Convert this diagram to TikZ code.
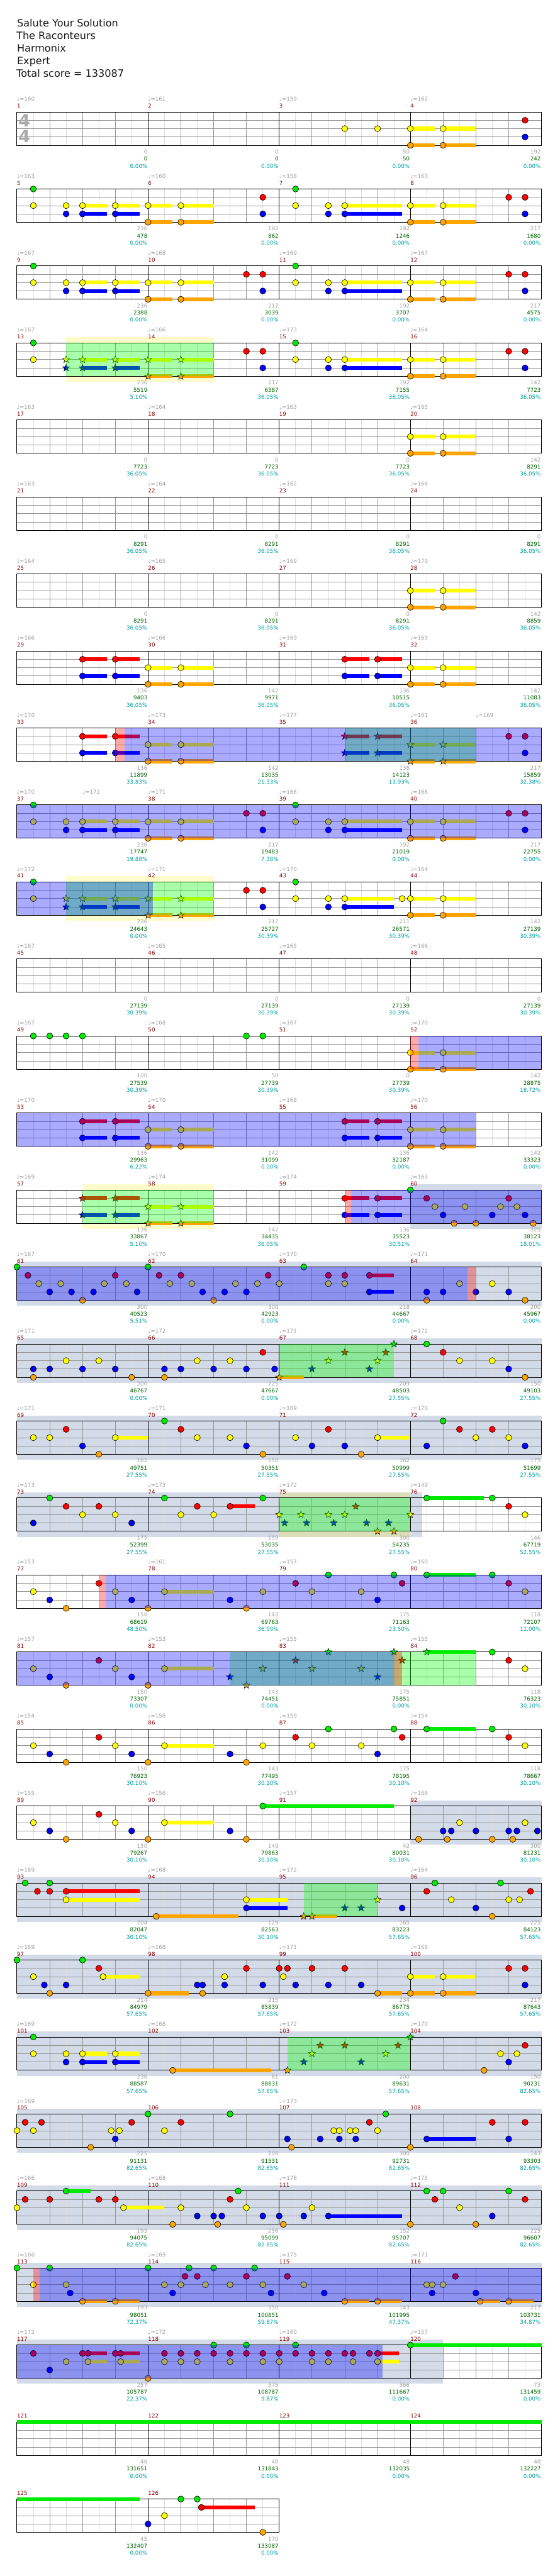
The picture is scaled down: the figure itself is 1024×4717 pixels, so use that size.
\documentclass[tikz,border=0pt]{standalone}
\usepackage{fontspec}
\setmainfont{DejaVu Sans}
\definecolor{ng}{RGB}{0,235,0}
\definecolor{nr}{RGB}{255,0,0}
\definecolor{ny}{RGB}{255,255,0}
\definecolor{nb}{RGB}{0,0,255}
\definecolor{no}{RGB}{255,165,0}
\definecolor{solo}{RGB}{211,219,232}
\definecolor{hbc}{RGB}{221,221,221}
\definecolor{btc}{RGB}{150,150,150}
\definecolor{tgray}{RGB}{160,160,160}
\definecolor{mred}{RGB}{140,0,0}
\definecolor{sgreen}{RGB}{0,100,0}
\definecolor{pteal}{RGB}{0,160,160}
\definecolor{tsg}{RGB}{170,170,170}
\newcommand\smf{\fontsize{10}{12}\selectfont}
\tikzset{
  hb/.style={draw=hbc, line width=0.8pt},
  bt/.style={draw=btc, line width=0.8pt},
  ln/.style={draw=btc, line width=0.9pt},
  ms/.style={draw=black, line width=0.9pt},
  bd/.style={draw=black, line width=1.1pt},
  lbl/.style={inner sep=0pt, font=\smf},
  tmp/.style={lbl, anchor=base west, text=tgray},
  mnum/.style={lbl, anchor=base west, text=mred},
  sgl/.style={lbl, anchor=base east, text=tgray},
  scl/.style={lbl, anchor=base east, text=sgreen},
  pcl/.style={lbl, anchor=base east, text=pteal},
  hdr/.style={inner sep=0pt, anchor=base west, text=black!90, font=\fontsize{18.5}{22}\selectfont},
  tsig/.style={inner sep=0pt, text=tsg, font=\bfseries\fontsize{31}{31}\selectfont},
  pics/sn/.style={code={\filldraw[fill=#1,draw=black,line width=0.6pt] (90:6.8) -- (126:2.9) -- (162:6.8) -- (198:2.9) -- (234:6.8) -- (270:2.9) -- (306:6.8) -- (342:2.9) -- (18:6.8) -- (54:2.9) -- cycle;}}
}
\newcommand\notesAt[3]{\foreach \kk in {#3}{\filldraw[fill=#2,draw=black,line width=0.7pt] ({31+30*\kk},{-15.25*#1}) circle (5.6);}}
\newcommand\susAt[3]{\foreach \ka/\kb in {#3}{\fill[#2] ({31+30*\ka},{-15.25*#1-3.5}) rectangle ({31+30*\kb},{-15.25*#1+3.5});}}
\newcommand\starsAt[3]{\foreach \kk in {#3}{\pic at ({31+30*\kk},{-15.25*#1}) {sn=#2};}}
\newcommand\NtG[1]{\notesAt{0}{ng}{#1}}
\newcommand\NtR[1]{\notesAt{1}{nr}{#1}}
\newcommand\NtY[1]{\notesAt{2}{ny}{#1}}
\newcommand\NtB[1]{\notesAt{3}{nb}{#1}}
\newcommand\NtO[1]{\notesAt{4}{no}{#1}}
\newcommand\SuG[1]{\susAt{0}{ng}{#1}}
\newcommand\SuR[1]{\susAt{1}{nr}{#1}}
\newcommand\SuY[1]{\susAt{2}{ny}{#1}}
\newcommand\SuB[1]{\susAt{3}{nb}{#1}}
\newcommand\SuO[1]{\susAt{4}{no}{#1}}
\newcommand\StG[1]{\starsAt{0}{ng}{#1}}
\newcommand\StR[1]{\starsAt{1}{nr}{#1}}
\newcommand\StY[1]{\starsAt{2}{ny}{#1}}
\newcommand\StB[1]{\starsAt{3}{nb}{#1}}
\newcommand\StO[1]{\starsAt{4}{no}{#1}}
\newcommand\OvS[2]{\fill[green,fill opacity=0.333] ({31+30*#1},0) rectangle ({31+30*#2},-61);}
\newcommand\OvD[2]{\fill[blue,fill opacity=0.333] ({31+30*#1},0) rectangle ({31+30*#2},-61);}
\newcommand\OvR[2]{\fill[red,fill opacity=0.333] ({31+30*#1},0) rectangle ({31+30*#2},-61);}
\newcommand\BdS[2]{\fill[solo] ({31+30*#1},10) rectangle ({31+30*#2},-71);}
\newcommand\BdY[2]{\fill[yellow,fill opacity=0.2] ({31+30*#1},0) rectangle ({31+30*#2},10.5);\fill[yellow,fill opacity=0.2] ({31+30*#1},-61) rectangle ({31+30*#2},-71.5);}
\newcommand\GridFour{%
  \foreach \kk in {1,3,...,31}{\draw[hb] ({31+30*\kk},0) -- ({31+30*\kk},-61);}
  \foreach \kk in {2,4,6,10,12,14,18,20,22,26,28,30}{\draw[bt] ({31+30*\kk},0) -- ({31+30*\kk},-61);}
  \foreach \ll in {1,2,3}{\draw[ln] (31,{-15.25*\ll}) -- (991,{-15.25*\ll});}
  \foreach \kk in {8,16,24}{\draw[ms] ({31+30*\kk},0) -- ({31+30*\kk},-61);}
  \draw[bd] (31,0) rectangle (991,-61);}
\newcommand\GridTwo{%
  \foreach \kk in {1,3,...,15}{\draw[hb] ({31+30*\kk},0) -- ({31+30*\kk},-61);}
  \foreach \kk in {2,4,6,10,12,14}{\draw[bt] ({31+30*\kk},0) -- ({31+30*\kk},-61);}
  \foreach \ll in {1,2,3}{\draw[ln] (31,{-15.25*\ll}) -- (511,{-15.25*\ll});}
  \draw[ms] (271,0) -- (271,-61);
  \draw[bd] (31,0) rectangle (511,-61);}
\newcommand\Tps[2]{\foreach \ka/\kb in {#2}{\node[tmp] (tp#1-\ka) at ({31+30*\ka},20) {♩=\kb};}}
\newcommand\Lbs[1]{\foreach \va/\vb/\vc/\vd/\ve in {#1}{%
  \node[mnum] (mn\vb) at ({31+240*\va},7.4) {\vb};
  \node[sgl] (sg\vb) at ({30+240*(\va+1)},-76.6) {\vc};
  \node[scl] (sc\vb) at ({30+240*(\va+1)},-89.6) {\vd};
  \node[pcl] (pc\vb) at ({30+240*(\va+1)},-102.6) {\ve};}}
\begin{document}
\begin{tikzpicture}[x=1pt,y=1pt]
\useasboundingbox (0,0) rectangle (1024,-4717);
\fill[white] (0,0) rectangle (1024,-4717);
\node[hdr] (h1) at (31,-49) {Salute Your Solution};
\node[hdr] (h2) at (30,-72) {The Raconteurs};
\node[hdr] (h3) at (31,-95) {Harmonix};
\node[hdr] (h4) at (31,-118) {Expert};
\node[hdr] (h5) at (30,-141) {Total score = 133087};
% row 0
\begin{scope}[yshift=-205pt]
\GridFour
\node[tsig] (ts1) at (44.5,-15.5) {4};
\node[tsig] (ts2) at (44.5,-45) {4};
\SuY{24/25.5,26/28}\SuO{24/25.5,26/28}
\NtY{20,22,24,26}\NtO{24,26}\NtR{31}\NtB{31}
\Tps{0}{0/160,8/161,16/159,24/162}
\Lbs{0/1/0/0/0.00\%,1/2/0/0/0.00\%,2/3/50/50/0.00\%,3/4/192/242/0.00\%}
\end{scope}
% row 1
\begin{scope}[yshift=-346pt]
\GridFour
\SuY{4/5.5,6/7.5,8/9.5,10/12,20/23.5,24/25.5,26/28}\SuB{4/5.5,6/7.5,20/23.5}\SuO{8/9.5,10/12,24/25.5,26/28}
\NtG{1,17}\NtY{1,3,4,6,8,10,17,19,20,24,26}\NtB{3,4,6,15,19,20,31}\NtO{8,10,24,26}\NtR{15,30,31}
\Tps{1}{0/163,8/160,16/158,24/160}
\Lbs{0/5/236/478/0.00\%,1/6/192/862/0.00\%,2/7/192/1246/0.00\%,3/8/217/1680/0.00\%}
\end{scope}
% row 2
\begin{scope}[yshift=-487pt]
\GridFour
\SuY{4/5.5,6/7.5,8/9.5,10/12,20/23.5,24/25.5,26/28}\SuB{4/5.5,6/7.5,20/23.5}\SuO{8/9.5,10/12,24/25.5,26/28}
\NtG{1,17}\NtY{1,3,4,6,8,10,17,19,20,24,26}\NtB{3,4,6,15,19,20,31}\NtO{8,10,24,26}\NtR{14,15,30,31}
\Tps{2}{0/167,8/168,16/169,24/167}
\Lbs{0/9/236/2388/0.00\%,1/10/217/3039/0.00\%,2/11/192/3707/0.00\%,3/12/217/4575/0.00\%}
\end{scope}
% row 3
\begin{scope}[yshift=-628pt]
\BdY{3}{12}
\GridFour
\SuY{4/5.5,6/7.5,8/9.5,10/12,20/23.5,24/25.5,26/28}\SuB{4/5.5,6/7.5,20/23.5}\SuO{8/9.5,10/12,24/25.5,26/28}
\NtG{1,17}\NtY{1,17,19,20,24,26}\NtB{15,19,20,31}\NtR{14,15,30,31}\NtO{24,26}
\StY{3,4,6,8,10}\StB{3,4,6}\StO{8,10}
\OvS{3}{12}
\Tps{3}{0/167,8/166,16/173,24/164}
\Lbs{0/13/236/5519/5.10\%,1/14/217/6387/36.05\%,2/15/192/7155/36.05\%,3/16/142/7723/36.05\%}
\end{scope}
% row 4
\begin{scope}[yshift=-769pt]
\GridFour
\SuY{24/25.5,26/28}\SuO{24/25.5,26/28}\NtY{24,26}\NtO{24,26}
\Tps{4}{0/163,8/164,16/163,24/165}
\Lbs{0/17/0/7723/36.05\%,1/18/0/7723/36.05\%,2/19/0/7723/36.05\%,3/20/142/8291/36.05\%}
\end{scope}
% row 5
\begin{scope}[yshift=-910pt]
\GridFour
\Tps{5}{0/163,8/164,16/162,24/166}
\Lbs{0/21/0/8291/36.05\%,1/22/0/8291/36.05\%,2/23/0/8291/36.05\%,3/24/0/8291/36.05\%}
\end{scope}
% row 6
\begin{scope}[yshift=-1051pt]
\GridFour
\SuY{24/25.5,26/28}\SuO{24/25.5,26/28}\NtY{24,26}\NtO{24,26}
\Tps{6}{0/164,8/165,16/169,24/170}
\Lbs{0/25/0/8291/36.05\%,1/26/0/8291/36.05\%,2/27/0/8291/36.05\%,3/28/142/8859/36.05\%}
\end{scope}
% row 7
\begin{scope}[yshift=-1192pt]
\GridFour
\SuR{4/5.5,6/7.5,20/21.5,22/23.5}\SuB{4/5.5,6/7.5,20/21.5,22/23.5}\SuY{8/9.5,10/12,24/25.5,26/28}\SuO{8/9.5,10/12,24/25.5,26/28}
\NtR{4,6,20,22}\NtB{4,6,20,22}\NtY{8,10,24,26}\NtO{8,10,24,26}
\Tps{7}{0/166,8/166,16/169,24/169}
\Lbs{0/29/136/9403/36.05\%,1/30/142/9971/36.05\%,2/31/136/10515/36.05\%,3/32/142/11083/36.05\%}
\end{scope}
% row 8
\begin{scope}[yshift=-1333pt]
\GridFour
\SuR{4/5.5,6/7.5,20/21.5,22/23.5}\SuB{4/5.5,6/7.5,20/21.5,22/23.5}\SuY{8/9.5,10/12,24/25.5,26/28}\SuO{8/9.5,10/12,24/25.5,26/28}
\NtR{4,6,30,31}\NtB{4,6,31}\NtY{8,10}\NtO{8,10}
\StR{20,22}\StB{20,22}\StY{24,26}\StO{24,26}
\OvS{20}{28}\OvD{6.55}{32}\OvR{6}{6.55}
\Tps{8}{0/170,8/173,16/177,24/161,28/169}
\Lbs{0/33/136/11899/33.83\%,1/34/142/13035/21.33\%,2/35/136/14123/13.93\%,3/36/217/15859/32.38\%}
\end{scope}
% row 9
\begin{scope}[yshift=-1474pt]
\GridFour
\SuY{4/5.5,6/7.5,8/9.5,10/12,20/23.5,24/25.5,26/28}\SuB{4/5.5,6/7.5,20/23.5}\SuO{8/9.5,10/12,24/25.5,26/28}
\NtG{1,17}\NtY{1,3,4,6,8,10,17,19,20,24,26}\NtB{3,4,6,15,19,20,31}\NtO{8,10,24,26}\NtR{14,15,30,31}
\OvD{0}{32}
\Tps{9}{0/170,4/172,8/171,16/166,24/168}
\Lbs{0/37/236/17747/19.88\%,1/38/217/19483/7.38\%,2/39/192/21019/0.00\%,3/40/217/22755/0.00\%}
\end{scope}
% row 10
\begin{scope}[yshift=-1615pt]
\BdY{3}{12}
\GridFour
\SuY{4/5.5,6/7.5,8/9.5,10/12,20/23,24/25.5,26/28}\SuB{4/5.5,6/7.5,20/23}\SuO{8/9.5,10/12,24/25.5,26/28}
\NtG{1,17}\NtY{1,17,19,20,23.5,24,26}\NtB{15,19,20}\NtR{14,15}\NtO{24,26}
\StY{3,4,6,8,10}\StB{3,4,6}\StO{8,10}
\OvS{3}{12}\OvD{0}{8.3}
\Tps{10}{0/172,8/171,16/170,24/164}
\Lbs{0/41/236/24643/0.00\%,1/42/217/25727/30.39\%,2/43/211/26571/30.39\%,3/44/142/27139/30.39\%}
\end{scope}
% row 11
\begin{scope}[yshift=-1756pt]
\GridFour
\Tps{11}{0/167,8/165,16/165,24/166}
\Lbs{0/45/0/27139/30.39\%,1/46/0/27139/30.39\%,2/47/0/27139/30.39\%,3/48/0/27139/30.39\%}
\end{scope}
% row 12
\begin{scope}[yshift=-1897pt]
\GridFour
\SuY{24/25.5,26/28}\SuO{24/25.5,26/28}
\NtG{1,2,3,4,14,15}\NtY{24,26}\NtO{24,26}
\OvD{24.5}{32}\OvR{24}{24.5}
\Tps{12}{0/167,8/168,16/167,24/170}
\Lbs{0/49/100/27539/30.39\%,1/50/50/27739/30.39\%,2/51/0/27739/30.39\%,3/52/142/28875/18.72\%}
\end{scope}
% row 13
\begin{scope}[yshift=-2038pt]
\GridFour
\SuR{4/5.5,6/7.5,20/21.5,22/23.5}\SuB{4/5.5,6/7.5,20/21.5,22/23.5}\SuY{8/9.5,10/12,24/25.5,26/28}\SuO{8/9.5,10/12,24/25.5,26/28}
\NtR{4,6,20,22}\NtB{4,6,20,22}\NtY{8,10,24,26}\NtO{8,10,24,26}
\OvD{0}{28}
\Tps{13}{0/170,8/170,16/168,24/170}
\Lbs{0/53/136/29963/6.22\%,1/54/142/31099/0.00\%,2/55/136/32187/0.00\%,3/56/142/33323/0.00\%}
\end{scope}
% row 14
\begin{scope}[yshift=-2179pt]
\BdS{24}{32}\BdY{4}{12}
\GridFour
\SuR{4/5.5,6/7.5,20/21.5,22/23.5}\SuB{4/5.5,6/7.5,20/21.5,22/23.5}\SuY{8/9.5,10/12}\SuO{8/9.5,10/12}
\StR{4,6}\StB{4,6}\StY{8,10}\StO{8,10}
\NtR{20,22,25,30}\NtB{20,22,26,29,31}\NtG{24}\NtY{25.5,27.33,29.5,30.5}\NtO{26.67,28,31.5}
\OvS{4}{12}\OvD{20.4}{32}\OvR{20}{20.4}
\Tps{14}{0/169,8/174,16/174,24/163}
\Lbs{0/57/136/33867/5.10\%,1/58/142/34435/36.05\%,2/59/136/35523/30.51\%,3/60/325/38123/18.01\%}
\end{scope}
% row 15
\begin{scope}[yshift=-2320pt]
\BdS{0}{32}
\GridFour
\SuR{21.5/23}\SuB{21.5/23}
\NtG{0,8,17.5}\NtR{0.67,6,8.67,10,15.33,19,20,21.5}\NtY{1.33,2.67,5.33,6.67,9.33,10.67,13.33,14.67,16,19,20,27,29}\NtB{2,3.33,4.67,7.33,11.33,12.67,14,21.5,25,26,28,30}\NtO{4,12,25,31}
\OvD{0}{27.5}\OvR{27.5}{28}
\Tps{15}{0/167,8/170,16/170,24/171}
\Lbs{0/61/300/40523/5.51\%,1/62/300/42923/0.00\%,2/63/218/44667/0.00\%,3/64/200/45967/0.00\%}
\end{scope}
% row 16
\begin{scope}[yshift=-2461pt]
\BdS{0}{32}
\GridFour
\SuO{16/17.5}
\NtB{1,2,4,6,9,10,12,14,15.72,30}\NtO{1,7,9,31}\NtY{3,5,11,13,27,29}\NtR{15,26}\NtG{25}
\StO{16}\StB{18,21.5}\StY{19,22}\StR{20,22.5}\StG{23}
\OvS{16}{23}
\Tps{16}{0/171,8/172,16/171,24/172}
\Lbs{0/65/200/46767/0.00\%,1/66/225/47667/0.00\%,2/67/209/48503/27.55\%,3/68/150/49103/27.55\%}
\end{scope}
% row 17
\begin{scope}[yshift=-2602pt]
\BdS{0}{32}
\GridFour
\SuY{6/8,22/24}
\NtY{1,2,6,11,13,17,22,28,30}\NtR{3,10,19,27,29}\NtB{4,14,18,20,25,31}\NtO{5,15,21}\NtG{9,26}
\Tps{17}{0/171,8/171,16/169,24/170}
\Lbs{0/69/162/49751/27.55\%,1/70/150/50351/27.55\%,2/71/162/50999/27.55\%,3/72/175/51699/27.55\%}
\end{scope}
% row 18
\begin{scope}[yshift=-2743pt]
\BdS{0}{24.73}\BdY{16}{24}
\GridFour
\SuR{13/14.5}\SuG{25/28.5}
\NtB{1,7}\NtG{2,9,15,25,29}\NtR{3,5,11,13,30}\NtY{4,6,10,12,31}
\StY{16,17.33,19,20,24}\StB{16.33,17.67,19.33,21.33,22.67}\StR{20.67}\StO{22,23}
\OvS{16}{24}
\Tps{18}{0/173,8/173,16/172,24/149}
\Lbs{0/73/175/52399/27.55\%,1/74/159/53035/27.55\%,2/75/300/54235/27.55\%,3/76/146/67719/52.55\%}
\end{scope}
% row 19
\begin{scope}[yshift=-2884pt]
\GridFour
\SuY{9/12}\SuG{25/28}
\NtY{1,6,9,15,18,21,31}\NtB{2,7,13,22}\NtO{3,8,14}\NtR{5,17,23.5,30}\NtG{19,23,25,29}
\OvD{5.4}{32}\OvR{5}{5.4}
\Tps{19}{0/153,8/161,16/157,24/160}
\Lbs{0/77/150/68619/48.50\%,1/78/143/69763/36.00\%,2/79/175/71163/23.50\%,3/80/118/72107/11.00\%}
\end{scope}
% row 20
\begin{scope}[yshift=-3025pt]
\GridFour
\SuY{9/12}\SuG{25/28}
\NtY{1,6,9,31}\NtB{2,7}\NtO{3,8}\NtR{5,30}\NtG{29}
\StB{13,22}\StO{14}\StY{15,18,21}\StR{17,23.5}\StG{19,23,25}
\OvS{13}{28}\OvD{0}{23}\OvR{23}{23.5}
\Tps{20}{0/157,8/153,16/155,24/155}
\Lbs{0/81/150/73307/0.00\%,1/82/143/74451/0.00\%,2/83/175/75851/0.00\%,3/84/118/76323/30.10\%}
\end{scope}
% row 21
\begin{scope}[yshift=-3166pt]
\GridFour
\SuY{9/12}\SuG{25/28}
\NtY{1,6,9,15,18,21,31}\NtB{2,7,13,22}\NtO{3,8,14}\NtR{5,17,23.5,30}\NtG{19,23,25,29}
\Tps{21}{0/154,8/156,16/159,24/154}
\Lbs{0/85/150/76923/30.10\%,1/86/143/77495/30.10\%,2/87/175/78195/30.10\%,3/88/118/78667/30.10\%}
\end{scope}
% row 22
\begin{scope}[yshift=-3307pt]
\BdS{24}{32}
\GridFour
\SuY{9/12}\SuG{15/23}
\NtY{1,6,9,27,31}\NtB{2,7,13,26,26.5,28,30,30.5,31.75}\NtO{3,8,14,24.5,26.25,29,30.25}\NtR{5}\NtG{15}
\Tps{22}{0/155,8/156,16/157,24/166}
\Lbs{0/89/150/79267/30.10\%,1/90/149/79863/30.10\%,2/91/42/80031/30.10\%,3/92/300/81231/30.10\%}
\end{scope}
% row 23
\begin{scope}[yshift=-3448pt]
\BdS{0}{32}
\GridFour
\SuR{3/7.5}\SuY{3/7.5,14/16.5}\SuO{8.5/13.5,18/19.5}\SuB{14/16.5}
\NtG{0.5,2,25.5,29.5}\NtR{1.25,2,3,25,31.33}\NtY{3,14,26.5,30,30.67}\NtO{8.5,29}\NtB{14,23.5,28}
\StO{17.5,18}\StB{20,21}\StY{22}
\OvS{17.5}{22}
\Tps{23}{0/169,8/168,16/172,24/164}
\Lbs{0/93/204/82047/30.10\%,1/94/129/82563/30.10\%,2/95/165/83223/57.65\%,3/96/225/84123/57.65\%}
\end{scope}
% row 24
\begin{scope}[yshift=-3589pt]
\BdS{0}{32}
\GridFour
\SuY{5.25/7.5,24/25.5,26/28}\SuO{8/10.5,22/23.5,24/25.5,26/28}
\NtG{0,4}\NtY{1,5.25,12.67,16.25,24,26}\NtB{1.67,3,11,11.33,12.67,15,17,19,21,31}\NtO{2,8,11.33,22,24,26}\NtR{5,14,16,16.5,18,20,30,31}
\Tps{24}{0/169,8/168,16/171,24/166}
\Lbs{0/97/214/84979/57.65\%,1/98/215/85839/57.65\%,2/99/234/86775/57.65\%,3/100/217/87643/57.65\%}
\end{scope}
% row 25
\begin{scope}[yshift=-3730pt]
\BdS{0}{32}
\GridFour
\SuY{4/5.5,6/7.5}\SuB{4/5.5,6/7.5}\SuO{9.5/15.5}
\NtG{1}\NtY{1,3,4,6,29.5,30.5}\NtB{3,4,6,30}\NtO{9.5,28.5}\NtR{31}
\StO{16.5}\StB{17.5,21}\StY{18,22.5}\StR{18.5,20,23.25}\StG{24}
\OvS{16.5}{24}
\Tps{25}{0/169,8/168,16/172,24/170}
\Lbs{0/101/236/88587/57.65\%,1/102/61/88831/57.65\%,2/103/200/89631/57.65\%,3/104/150/90231/82.65\%}
\end{scope}
% row 26
\begin{scope}[yshift=-3871pt]
\BdS{0}{32}
\GridFour
\SuB{25/28}
\NtY{0,1,5.75,6.25,9,19.33,19.67,20.33,20.67,22}\NtR{0.5,1.5,7,10,21.5,29,31}\NtO{4.5,16.75,24}\NtB{6,16.5,18.5,19.67,20.67,25,30}\NtG{8,13,22.5}
\Tps{26}{0/169,16/173}
\Lbs{0/105/225/91131/82.65\%,1/106/100/91531/82.65\%,2/107/300/92731/82.65\%,3/108/143/93303/82.65\%}
\end{scope}
% row 27
\begin{scope}[yshift=-4012pt]
\BdS{0}{32}
\GridFour
\SuG{3/4.5}\SuY{6.5/9}\SuB{19/23.5}
\NtY{0,6.5,10,14,18,27}\NtR{0.5,2,5,6,13,25.5,31}\NtG{3,13.5,25,26,30}\NtO{9.5,12.25,16.25,24,28}\NtB{11,12,12.5,15,16,17.5,19,29}
\Tps{27}{0/166,8/168,16/178,24/175}
\Lbs{0/109/193/94075/82.65\%,1/110/256/95099/82.65\%,2/111/152/95707/82.65\%,3/112/225/96607/82.65\%}
\end{scope}
% row 28
\begin{scope}[yshift=-4153pt]
\BdS{0}{32}
\GridFour
\SuO{4/5.5,6/7.5,20/21.5,22/23.5,28.25/29.5,30/31.5}
\NtG{0,2,8,10.5,12,14.5}\NtY{1,3,9,10,11.5,13,15,17.5,25,25.33,26}\NtB{3.25,9.5,15.5,18.75,25.33,28}\NtO{4,6,20,22,28.25,30}\NtR{10.25,11,14,16.5,26.75}
\OvD{1.37}{32}\OvR{1}{1.37}
\Tps{28}{0/166,8/169,16/175,24/171}
\Lbs{0/113/193/98051/72.37\%,1/114/350/100851/59.87\%,2/115/143/101995/47.37\%,3/116/217/103731/34.87\%}
\end{scope}
% row 29
\begin{scope}[yshift=-4294pt]
\BdS{0}{26}
\GridFour
\SuR{4.33/5.5,6.33/7.5,22/23.3}\SuY{4.33/5.5,6.33/7.5,22/23.3}\SuG{24/32}
\NtR{1,4,4.33,6,6.33,9,10,11,12,13,14,15,16,17,18,19,20,20.5,21.5,22}\NtY{3,4.33,6.33,9,10,11,13,15,16,18,19,20.5,22}\NtB{2}\NtO{8}\NtG{12,14,17,24}
\OvD{0}{22.3}
\Tps{29}{0/172,8/172,16/160,24/157}
\Lbs{0/117/257/105787/22.37\%,1/118/375/108787/9.87\%,2/119/366/111667/0.00\%,3/120/73/131459/0.00\%}
\end{scope}
% row 30
\begin{scope}[yshift=-4435pt]
\GridFour
\SuG{0/32}
\Lbs{0/121/48/131651/0.00\%,1/122/48/131843/0.00\%,2/123/48/132035/0.00\%,3/124/48/132227/0.00\%}
\end{scope}
% row 31
\begin{scope}[yshift=-4576pt]
\GridTwo
\SuG{0/7.5}\SuR{11.25/14.5}
\NtB{8}\NtY{9}\NtG{10,11}\NtR{11.25}\NtO{15}
\Lbs{0/125/45/132407/0.00\%,1/126/170/133087/0.00\%}
\end{scope}
\end{tikzpicture}
\end{document}
